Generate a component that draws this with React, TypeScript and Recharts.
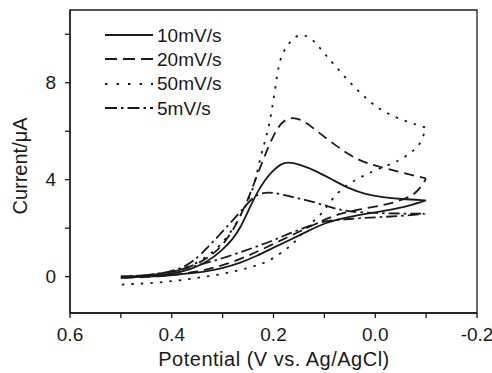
import React from "react";
import { LineChart, Line, XAxis, YAxis, ReferenceArea, Legend } from "recharts";

const FONT = "'Liberation Sans', Arial, sans-serif";
const INK = "#1a1a1a";

// potential ticks (V vs. Ag/AgCl), the axis runs from 0.6 down to -0.2
const xTicks = [0.6, 0.5, 0.4, 0.3, 0.2, 0.1, 0, -0.1, -0.2];
const yTicks = [0, 2, 4, 6, 8, 10];
const yLabels = [0, 4, 8];

// each CV loop: forward sweep 0.5 -> -0.1 V, then back to 0.5 V
// (turning points are listed twice so the smoothed curve keeps its corner)
const cv10 = [
  { x: 0.5, y: 0.0 }, { x: 0.45, y: 0.03 }, { x: 0.4, y: 0.1 }, { x: 0.364, y: 0.29 },
  { x: 0.33, y: 0.6 }, { x: 0.3, y: 1.1 }, { x: 0.28, y: 1.55 }, { x: 0.266, y: 1.98 },
  { x: 0.25, y: 2.7 }, { x: 0.233, y: 3.45 }, { x: 0.215, y: 4.05 }, { x: 0.2, y: 4.4 },
  { x: 0.185, y: 4.65 }, { x: 0.173, y: 4.73 }, { x: 0.15, y: 4.65 }, { x: 0.115, y: 4.35 },
  { x: 0.08, y: 3.95 }, { x: 0.05, y: 3.62 }, { x: 0.02, y: 3.4 }, { x: -0.015, y: 3.27 },
  { x: -0.05, y: 3.2 }, { x: -0.1, y: 3.15 }, { x: -0.1, y: 3.15 },
  { x: -0.07, y: 2.95 }, { x: -0.05, y: 2.84 }, { x: 0.0, y: 2.65 }, { x: 0.05, y: 2.48 },
  { x: 0.1, y: 2.22 }, { x: 0.135, y: 1.85 }, { x: 0.167, y: 1.52 }, { x: 0.2, y: 1.2 },
  { x: 0.233, y: 0.85 }, { x: 0.265, y: 0.57 }, { x: 0.3, y: 0.35 }, { x: 0.33, y: 0.22 },
  { x: 0.364, y: 0.14 }, { x: 0.4, y: 0.05 }, { x: 0.45, y: 0.0 }, { x: 0.5, y: -0.05 },
];

const cv20 = [
  { x: 0.5, y: -0.05 }, { x: 0.45, y: 0.05 }, { x: 0.4, y: 0.15 }, { x: 0.35, y: 0.5 },
  { x: 0.32, y: 0.9 }, { x: 0.3, y: 1.3 }, { x: 0.28, y: 1.9 }, { x: 0.265, y: 2.5 },
  { x: 0.25, y: 3.2 }, { x: 0.24, y: 3.75 }, { x: 0.22, y: 4.85 }, { x: 0.2, y: 5.85 },
  { x: 0.185, y: 6.35 }, { x: 0.167, y: 6.6 }, { x: 0.14, y: 6.45 }, { x: 0.115, y: 6.0 },
  { x: 0.08, y: 5.45 }, { x: 0.05, y: 5.0 }, { x: 0.02, y: 4.7 }, { x: -0.005, y: 4.55 },
  { x: -0.05, y: 4.3 }, { x: -0.1, y: 4.05 }, { x: -0.1, y: 4.05 },
  { x: -0.09, y: 3.7 }, { x: -0.075, y: 3.35 }, { x: -0.05, y: 3.15 }, { x: -0.023, y: 2.97 },
  { x: 0.03, y: 2.78 }, { x: 0.07, y: 2.6 }, { x: 0.1, y: 2.35 }, { x: 0.15, y: 1.85 },
  { x: 0.2, y: 1.35 }, { x: 0.25, y: 0.85 }, { x: 0.3, y: 0.45 }, { x: 0.35, y: 0.2 },
  { x: 0.4, y: 0.05 }, { x: 0.45, y: -0.02 }, { x: 0.5, y: -0.05 },
];

const cv50 = [
  { x: 0.5, y: 0.0 }, { x: 0.45, y: 0.05 }, { x: 0.4, y: 0.1 }, { x: 0.35, y: 0.55 },
  { x: 0.32, y: 1.0 }, { x: 0.3, y: 1.4 }, { x: 0.28, y: 1.94 }, { x: 0.26, y: 2.7 },
  { x: 0.246, y: 3.3 }, { x: 0.235, y: 4.0 }, { x: 0.225, y: 5.0 }, { x: 0.215, y: 5.7 },
  { x: 0.207, y: 6.4 }, { x: 0.2, y: 7.3 }, { x: 0.193, y: 8.3 }, { x: 0.187, y: 9.0 },
  { x: 0.175, y: 9.5 }, { x: 0.16, y: 9.85 }, { x: 0.148, y: 10.0 }, { x: 0.13, y: 9.9 },
  { x: 0.115, y: 9.6 }, { x: 0.1, y: 9.2 }, { x: 0.083, y: 8.8 }, { x: 0.05, y: 8.0 },
  { x: 0.016, y: 7.3 }, { x: -0.015, y: 6.8 }, { x: -0.06, y: 6.4 }, { x: -0.1, y: 6.15 },
  { x: -0.1, y: 6.15 },
  { x: -0.088, y: 5.4 }, { x: -0.068, y: 5.1 }, { x: -0.05, y: 4.8 }, { x: 0.0, y: 4.4 },
  { x: 0.05, y: 3.9 }, { x: 0.083, y: 3.3 }, { x: 0.103, y: 2.6 }, { x: 0.128, y: 2.2 },
  { x: 0.15, y: 1.6 }, { x: 0.17, y: 1.2 }, { x: 0.21, y: 0.6 }, { x: 0.25, y: 0.35 },
  { x: 0.3, y: 0.1 }, { x: 0.35, y: -0.05 }, { x: 0.4, y: -0.2 }, { x: 0.45, y: -0.28 },
  { x: 0.5, y: -0.33 },
];

const cv5 = [
  { x: 0.5, y: 0.0 }, { x: 0.45, y: 0.05 }, { x: 0.4, y: 0.2 }, { x: 0.37, y: 0.45 },
  { x: 0.345, y: 0.85 }, { x: 0.305, y: 1.75 }, { x: 0.266, y: 2.65 }, { x: 0.24, y: 3.3 },
  { x: 0.22, y: 3.48 }, { x: 0.2, y: 3.47 }, { x: 0.17, y: 3.32 }, { x: 0.134, y: 3.15 },
  { x: 0.1, y: 2.95 }, { x: 0.075, y: 2.78 }, { x: 0.05, y: 2.68 }, { x: 0.0, y: 2.62 },
  { x: -0.05, y: 2.6 }, { x: -0.1, y: 2.6 }, { x: -0.1, y: 2.6 },
  { x: -0.05, y: 2.5 }, { x: 0.0, y: 2.45 }, { x: 0.05, y: 2.38 }, { x: 0.103, y: 2.3 },
  { x: 0.135, y: 2.05 }, { x: 0.167, y: 1.8 }, { x: 0.2, y: 1.5 }, { x: 0.233, y: 1.24 },
  { x: 0.3, y: 0.75 }, { x: 0.364, y: 0.37 }, { x: 0.4, y: 0.2 }, { x: 0.45, y: 0.05 },
  { x: 0.5, y: 0.0 },
];

const series = [
  { name: "10mV/s", data: cv10, dash: undefined, legendDash: undefined },
  { name: "20mV/s", data: cv20, dash: "10 6", legendDash: "12 6" },
  { name: "50mV/s", data: cv50, dash: "2.5 7", legendDash: "2.5 9" },
  { name: "5mV/s", data: cv5, dash: "11 4 2.5 4", legendDash: "12 4 2.5 4" },
];

function LegendBox() {
  return (
    <div style={{ fontFamily: FONT, fontSize: 19, color: INK }}>
      {series.map((s) => (
        <div key={s.name} style={{ display: "flex", alignItems: "center", height: 24.3 }}>
          <svg width={48} height={6}>
            <line x1={0} y1={3} x2={48} y2={3} stroke={INK} strokeWidth={2} strokeDasharray={s.legendDash} />
          </svg>
          <span style={{ marginLeft: 4, lineHeight: 1 }}>{s.name}</span>
        </div>
      ))}
    </div>
  );
}

export default function App() {
  return (
    <div style={{ position: "absolute", left: 0, top: 0, background: "#fff" }}>
      <LineChart width={492} height={373} margin={{ top: 10, right: 15, bottom: 0, left: 0 }}>
        <XAxis
          dataKey="x"
          type="number"
          domain={[-0.2, 0.6]}
          reversed
          ticks={xTicks}
          interval={0}
          height={60}
          tickSize={5}
          tickMargin={10}
          stroke={INK}
          strokeWidth={1.3}
          tick={{ fill: INK, fontSize: 19, fontFamily: FONT }}
          tickFormatter={(v: number) => (Math.round(v * 10) % 2 === 0 ? v.toFixed(1) : "")}
          label={() => (
            <text x={274} y={366} textAnchor="middle" fill={INK} fontSize={20} fontFamily={FONT} letterSpacing={0.5}>
              Potential (V vs. Ag/AgCl)
            </text>
          )}
        />
        <YAxis
          type="number"
          domain={[-1.5, 11]}
          ticks={yTicks}
          interval={0}
          width={70}
          tickSize={5}
          tickMargin={9}
          stroke={INK}
          strokeWidth={1.3}
          tick={{ fill: INK, fontSize: 19, fontFamily: FONT }}
          tickFormatter={(v: number) => (yLabels.includes(v) ? String(v) : "")}
          label={() => (
            <text
              x={20}
              y={166}
              transform="rotate(-90 20 166)"
              textAnchor="middle"
              dominantBaseline="central"
              fill={INK}
              fontSize={20}
              fontFamily={FONT}
            >
              Current/μA
            </text>
          )}
        />
        <ReferenceArea
          x1={0.6}
          x2={-0.2}
          y1={-1.5}
          y2={11}
          fill="none"
          fillOpacity={0}
          stroke={INK}
          strokeWidth={1.3}
          ifOverflow="visible"
        />
        {series.map((s) => (
          <Line
            key={s.name}
            name={s.name}
            data={s.data}
            dataKey="y"
            type="basis"
            stroke={INK}
            strokeWidth={1.8}
            strokeDasharray={s.dash}
            dot={false}
            activeDot={false}
            isAnimationActive={false}
          />
        ))}
        <Legend
          layout="vertical"
          align="center"
          verticalAlign="middle"
          content={() => <LegendBox />}
          wrapperStyle={{ left: 105, top: 23, width: "auto" }}
        />
      </LineChart>
    </div>
  );
}
